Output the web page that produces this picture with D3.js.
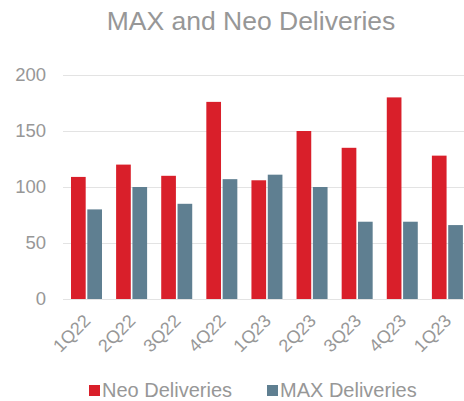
<!DOCTYPE html>
<html><head><meta charset="utf-8">
<script src="https://cdn.jsdelivr.net/npm/d3@7"></script>
<style>body{margin:0;background:#fff}svg{display:block}</style>
</head><body>
<svg id="c" width="464" height="401"></svg>
<script>
const categories = ["1Q22","2Q22","3Q22","4Q22","1Q23","2Q23","3Q23","4Q23","1Q23"];
const neoDeliveries = [109,120,110,176,106,150,135,180,128];
const maxDeliveries = [80,100,85,107,111,100,69,69,66];
const seriesNames = ["Neo Deliveries","MAX Deliveries"];
const yTicks = [0,50,100,150,200];

const colors = ["#d91f2a","#5f7f91"];
const textColor = "#979797";
const svg = d3.select("#c");
const font = "Liberation Sans, Arial, sans-serif";

const x0 = d3.scaleBand().domain(d3.range(categories.length)).range([63,469]).paddingInner(0).paddingOuter(0);
const x1 = d3.scaleBand().domain([0,1]).range([8,8+31]).paddingInner(0.1);
const y = d3.scaleLinear().domain([0,200]).range([299,75]);

svg.append("text").attr("x",251).attr("y",30).attr("text-anchor","middle")
  .attr("font-family",font).attr("font-size",26.5).attr("fill",textColor).text("MAX and Neo Deliveries");

const yAxis = svg.append("g").attr("transform","translate(63,0)")
  .call(d3.axisLeft(y).tickValues(yTicks).tickSize(-406).tickPadding(17));
yAxis.select(".domain").remove();
yAxis.selectAll("line").attr("stroke","#e3e3e3");
yAxis.selectAll("text").attr("font-family",font).attr("font-size",18.5).attr("fill",textColor);

const data = categories.map((c,i)=>[neoDeliveries[i],maxDeliveries[i]]);
const g = svg.append("g");
data.forEach((vals,i)=>{
  vals.forEach((v,s)=>{
    g.append("rect")
      .attr("x",x0(i)+x1(s)).attr("width",x1.bandwidth())
      .attr("y",y(v)).attr("height",y(0)-y(v))
      .attr("fill",colors[s]);
  });
});

const xAxis = svg.append("g").attr("transform","translate(0,299)")
  .call(d3.axisBottom(x0).tickFormat(i=>categories[i]).tickSize(0).tickPadding(0));
xAxis.select(".domain").attr("stroke","#e3e3e3");
xAxis.selectAll("text").attr("font-family",font).attr("font-size",18).attr("fill",textColor)
  .attr("text-anchor","end").attr("dy",null).attr("y",null)
  .attr("transform","translate(6,23) rotate(-45)");

const leg = svg.append("g");
const legX = [89,267];
seriesNames.forEach((n,s)=>{
  leg.append("rect").attr("x",legX[s]).attr("y",385).attr("width",11).attr("height",11).attr("fill",colors[s]);
  leg.append("text").attr("x",legX[s]+13).attr("y",396.5).attr("font-family",font).attr("font-size",20)
    .attr("fill",textColor).text(n);
});
</script>
</body></html>
